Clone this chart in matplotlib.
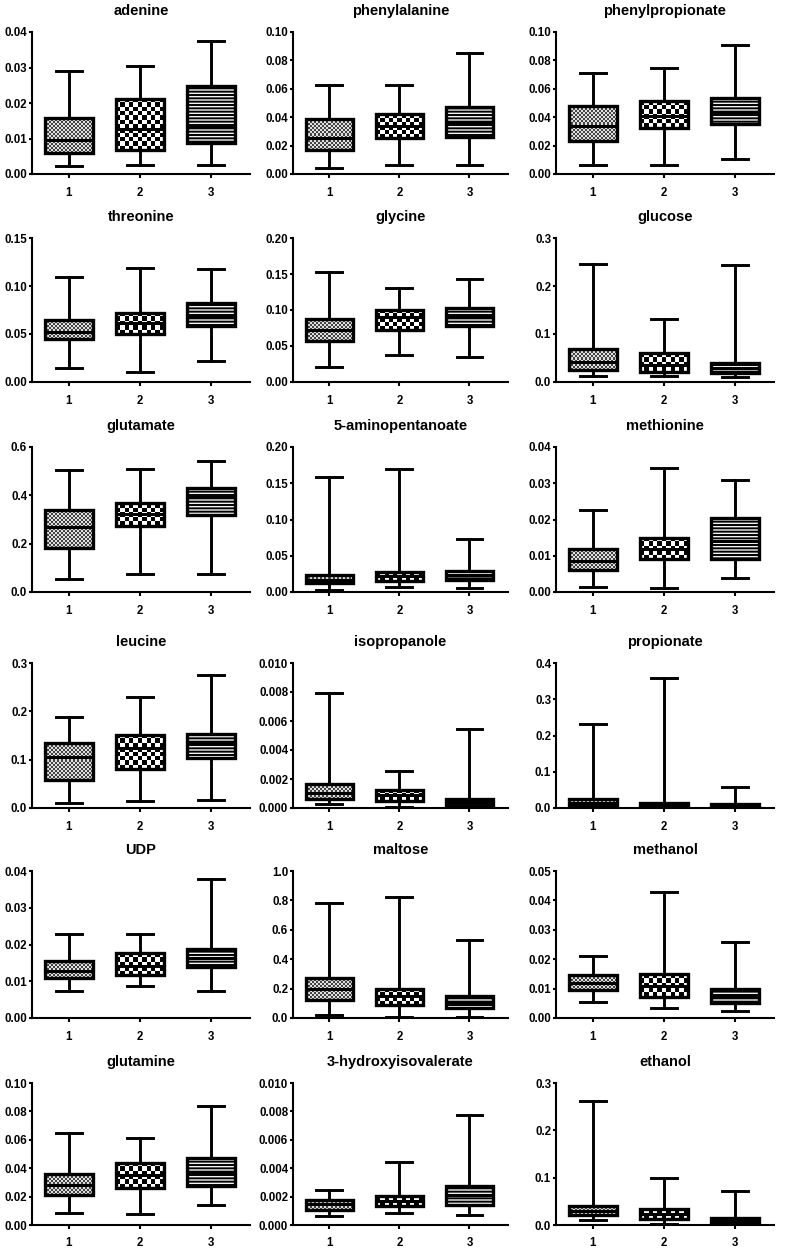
import numpy as np
import matplotlib.pyplot as plt
from matplotlib.patches import PathPatch
from matplotlib.colors import ListedColormap

plt.rcParams['font.family'] = ['Liberation Sans', 'DejaVu Sans']
plt.rcParams['font.weight'] = 'bold'
plt.rcParams['hatch.linewidth'] = 1.4

# --- data: one row per metabolite, values for groups 1, 2, 3 ---
names = ['adenine', 'phenylalanine', 'phenylpropionate',
         'threonine', 'glycine', 'glucose',
         'glutamate', '5-aminopentanoate', 'methionine',
         'leucine', 'isopropanole', 'propionate',
         'UDP', 'maltose', 'methanol',
         'glutamine', '3-hydroxyisovalerate', 'ethanol']
groups = [1, 2, 3]

whis_lo = [[0.0022, 0.0024, 0.0026], [0.0042, 0.0066, 0.0066], [0.0061, 0.0061, 0.0107],
           [0.015, 0.0108, 0.0216], [0.021, 0.038, 0.035], [0.012, 0.012, 0.010],
           [0.052, 0.076, 0.073], [0.003, 0.007, 0.006], [0.0015, 0.0012, 0.004],
           [0.011, 0.014, 0.016], [0.0003, 0.0001, 0.00005], [0.005, 0.001, 0.001],
           [0.0074, 0.0086, 0.0074], [0.02, 0.01, 0.01], [0.0055, 0.0033, 0.0025],
           [0.0082, 0.0075, 0.0141], [0.00063, 0.00086, 0.0007], [0.0098, 0.002, 0.002]]
q1 = [[0.0059, 0.0067, 0.0087], [0.0171, 0.0253, 0.0262], [0.0234, 0.0322, 0.035],
      [0.0443, 0.0499, 0.0583], [0.057, 0.072, 0.078], [0.025, 0.020, 0.018],
      [0.183, 0.274, 0.32], [0.012, 0.015, 0.016], [0.006, 0.009, 0.009],
      [0.0575, 0.080, 0.104], [0.00065, 0.00047, 0.0001], [0.009, 0.004, 0.003],
      [0.0108, 0.0117, 0.0138], [0.12, 0.09, 0.07], [0.0095, 0.007, 0.005],
      [0.0211, 0.0258, 0.0274], [0.00109, 0.00133, 0.00144], [0.021, 0.012, 0.0056]]
med = [[0.0097, 0.0127, 0.0131], [0.0253, 0.034, 0.0363], [0.0339, 0.0411, 0.0439],
       [0.0523, 0.061, 0.068], [0.072, 0.090, 0.090], [0.042, 0.035, 0.030],
       [0.269, 0.324, 0.393], [0.017, 0.022, 0.024], [0.0085, 0.012, 0.014],
       [0.105, 0.125, 0.134], [0.00105, 0.00093, 0.0004], [0.0135, 0.009, 0.007],
       [0.0128, 0.0142, 0.0163], [0.20, 0.15, 0.11], [0.012, 0.011, 0.0075],
       [0.0281, 0.0351, 0.0375], [0.00147, 0.0017, 0.00214], [0.030, 0.023, 0.0105]]
q3 = [[0.0158, 0.0211, 0.0249], [0.0386, 0.0422, 0.0473], [0.0479, 0.0514, 0.0537],
      [0.0646, 0.0722, 0.082], [0.088, 0.100, 0.103], [0.068, 0.060, 0.040],
      [0.341, 0.368, 0.430], [0.024, 0.028, 0.029], [0.012, 0.015, 0.0205],
      [0.134, 0.152, 0.153], [0.00163, 0.00123, 0.00065], [0.026, 0.0145, 0.0117],
      [0.0155, 0.0176, 0.0189], [0.27, 0.20, 0.15], [0.0145, 0.015, 0.0098],
      [0.0358, 0.044, 0.0475], [0.00179, 0.00202, 0.00274], [0.041, 0.033, 0.0155]]
whis_hi = [[0.0291, 0.0305, 0.0376], [0.0628, 0.0628, 0.0855], [0.0708, 0.0748, 0.0911],
           [0.1092, 0.1186, 0.1176], [0.153, 0.130, 0.143], [0.245, 0.132, 0.243],
           [0.506, 0.508, 0.542], [0.158, 0.170, 0.073], [0.0227, 0.0343, 0.031],
           [0.188, 0.229, 0.276], [0.00795, 0.00256, 0.00547], [0.233, 0.360, 0.0577],
           [0.02275, 0.02275, 0.0379], [0.78, 0.82, 0.53], [0.021, 0.0428, 0.026],
           [0.0649, 0.0614, 0.0836], [0.00249, 0.00447, 0.00774], [0.261, 0.100, 0.0717]]

# y axis: top value, tick step, decimals of tick labels
y_top = [0.04, 0.10, 0.10, 0.15, 0.20, 0.3, 0.6, 0.20, 0.04,
         0.3, 0.010, 0.4, 0.04, 1.0, 0.05, 0.10, 0.010, 0.3]
y_step = [0.01, 0.02, 0.02, 0.05, 0.05, 0.1, 0.2, 0.05, 0.01,
          0.1, 0.002, 0.1, 0.01, 0.2, 0.01, 0.02, 0.002, 0.1]
y_dec = [2, 2, 2, 2, 2, 1, 1, 2, 2, 1, 3, 1, 2, 1, 2, 2, 3, 1]

# --- layout in pixels ---
W, H = 789, 1249
col_x = [(32, 250), (293, 508), (556, 774)]
row_y = [(32, 174), (238, 382), (447, 592), (663, 808), (871, 1018), (1083, 1225)]
XMIN, XMAX = 0.48, 3.55
BOXW = 0.67

# fill textures: fine grey checker, coarse black/white checker, horizontal lines
checker_cell = [2.0, 4.3]
checker_cmap = [ListedColormap(['#e0e0e0', '#444444']),
                ListedColormap(['white', 'black'])]

fig = plt.figure(figsize=(W / 100, H / 100), dpi=100)

for i, name in enumerate(names):
    r, c = divmod(i, 3)
    x0, x1 = col_x[c]
    y0, y1 = row_y[r]
    ax = fig.add_axes([x0 / W, 1 - y1 / H, (x1 - x0) / W, (y1 - y0) / H])
    xpx = (x1 - x0) / (XMAX - XMIN)
    ypx = (y1 - y0) / y_top[i]

    stats = [dict(whislo=whis_lo[i][g], q1=q1[i][g], med=med[i][g],
                  q3=q3[i][g], whishi=whis_hi[i][g], fliers=[]) for g in range(3)]
    bp = ax.bxp(stats, positions=groups, widths=BOXW, capwidths=0.37,
                patch_artist=True, showfliers=False,
                boxprops=dict(linewidth=0),
                medianprops=dict(color='black', lw=2.2, zorder=4),
                whiskerprops=dict(color='black', lw=2.1),
                capprops=dict(color='black', lw=2.1))
    for g, box in enumerate(bp['boxes']):
        if g < 2:
            box.set_facecolor('none')
            left, right = groups[g] - BOXW / 2, groups[g] + BOXW / 2
            lo, hi = q1[i][g], q3[i][g]
            nx = max(1, round((right - left) * xpx / checker_cell[g]))
            ny = max(1, round((hi - lo) * ypx / checker_cell[g]))
            arr = np.indices((ny, nx)).sum(axis=0) % 2
            im = ax.imshow(arr, extent=(left, right, lo, hi), origin='lower',
                           cmap=checker_cmap[g], interpolation='nearest',
                           aspect='auto', zorder=2.5)
            im.set_clip_path(box)
        else:
            box.set_facecolor('#f4f4f4')
            box.set_edgecolor('black')
            box.set_hatch('-----')
        ax.add_patch(PathPatch(box.get_path(), transform=box.get_transform(),
                               fill=False, ec='black', lw=2.4, zorder=3))

    ax.set_xlim(XMIN, XMAX)
    ax.set_ylim(0, y_top[i])
    ticks = np.arange(0, y_top[i] + y_step[i] / 2, y_step[i])
    ax.set_yticks(ticks)
    ax.set_yticklabels([f'{t:.{y_dec[i]}f}' for t in ticks])
    ax.set_xticks(groups)
    ax.set_xticklabels([str(g) for g in groups])
    ax.set_title(name, fontsize=10.5, fontweight='bold', pad=12)

    for s in ['top', 'right']:
        ax.spines[s].set_visible(False)
    for s in ['left', 'bottom']:
        ax.spines[s].set_linewidth(1.5)
    ax.tick_params(axis='y', length=2.5, width=1.5, pad=1, labelsize=8.3)
    ax.tick_params(axis='x', length=3, width=1.5, pad=6, labelsize=8.3)

fig.savefig('out.png', dpi=100)
